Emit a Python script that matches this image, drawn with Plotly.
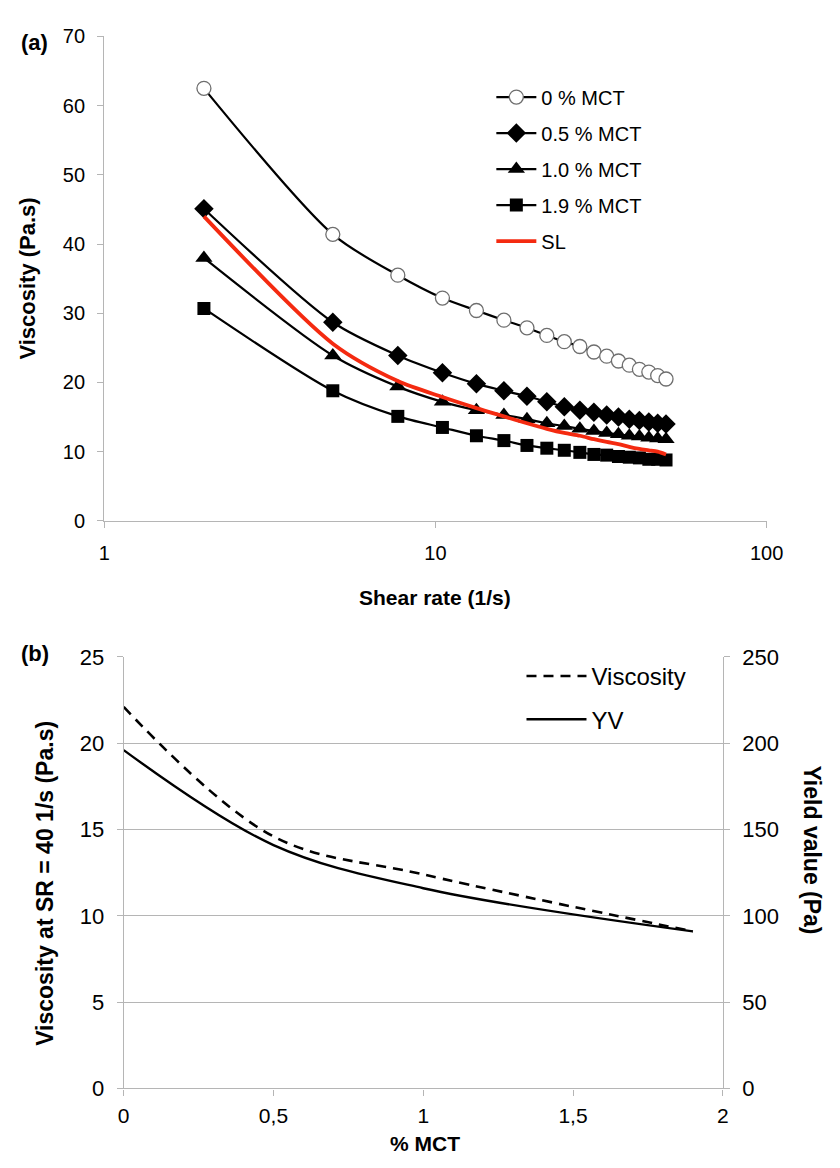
import plotly.graph_objects as go

# ---------------- data: panel (a) ----------------
shear_rate = [2.0, 4.9, 7.7, 10.5, 13.3, 16.1, 18.9, 21.7, 24.5, 27.3,
              30.1, 32.9, 35.7, 38.5, 41.3, 44.1, 46.9, 49.7]
mct_0 = [62.5, 41.4, 35.5, 32.2, 30.4, 29.0, 27.9, 26.8, 25.9, 25.2,
         24.4, 23.8, 23.1, 22.5, 21.9, 21.5, 21.0, 20.5]
mct_05 = [45.1, 28.7, 23.9, 21.4, 19.8, 18.8, 18.0, 17.2, 16.5, 16.0,
          15.7, 15.3, 15.0, 14.7, 14.5, 14.3, 14.1, 14.0]
mct_10 = [38.0, 23.9, 19.4, 17.2, 16.0, 15.3, 14.7, 14.1, 13.7, 13.3,
          13.0, 12.7, 12.5, 12.3, 12.2, 12.0, 11.9, 11.8]
mct_19 = [30.7, 18.8, 15.1, 13.5, 12.3, 11.6, 10.9, 10.5, 10.2, 9.9,
          9.6, 9.5, 9.3, 9.2, 9.1, 8.9, 8.9, 8.8]
sl = [44.0, 25.6, 20.2, 17.9, 16.3, 15.1, 14.1, 13.3, 12.7, 12.3,
      11.8, 11.4, 11.1, 10.7, 10.4, 10.2, 10.0, 9.6]
series_names = ["0 % MCT", "0.5 % MCT", "1.0 % MCT", "1.9 % MCT", "SL"]
x_ticks_a = [1, 10, 100]
x_ticklabels_a = ["1", "10", "100"]

# ---------------- data: panel (b) ----------------
mct_pct = [0, 0.5, 1.0, 1.9]
viscosity_40 = [22.1, 14.6, 12.4, 9.1]
yield_value = [196, 141, 116, 91]

FONT = "Liberation Sans, Arial, Helvetica, sans-serif"
GRAY = "#B5B5B5"
W, H = 840, 1168

def px_x(p):
    return p / W

def px_y(p):
    return 1 - p / H

fig = go.Figure()

marker_styles = [
    dict(symbol="circle", size=14, color="white", line=dict(color="#6E6E6E", width=1.3)),
    dict(symbol="diamond", size=15, color="black", line=dict(color="black", width=0)),
    dict(symbol="triangle-up", size=15, color="black", line=dict(color="black", width=0)),
    dict(symbol="square", size=13, color="black", line=dict(color="black", width=0)),
]
for name, ys, mk in zip(series_names[:4], [mct_0, mct_05, mct_10, mct_19], marker_styles):
    fig.add_trace(go.Scatter(
        x=shear_rate, y=ys, name=name, mode="lines+markers",
        line=dict(color="black", width=2.2, shape="spline", smoothing=0.8),
        marker=mk, xaxis="x", yaxis="y", legend="legend", legendgroup=name))

fig.add_trace(go.Scatter(
    x=shear_rate, y=sl, name=series_names[4], mode="lines",
    line=dict(color="#F42A10", width=3.8, shape="spline", smoothing=0.8),
    xaxis="x", yaxis="y", legend="legend", legendgroup="SL"))

# panel (b)
fig.add_trace(go.Scatter(
    x=mct_pct, y=viscosity_40, name="Viscosity", mode="lines",
    line=dict(color="black", width=2.6, dash="10px,7px", shape="spline", smoothing=1.0),
    xaxis="x2", yaxis="y2", legend="legend2", legendgroup="visc"))
fig.add_trace(go.Scatter(
    x=mct_pct, y=yield_value, name="YV", mode="lines",
    line=dict(color="black", width=2.4, shape="spline", smoothing=1.0),
    xaxis="x2", yaxis="y3", legend="legend2", legendgroup="yv"))

axis_common = dict(showline=True, linecolor=GRAY, linewidth=1.3, ticks="outside",
                   tickcolor=GRAY, ticklen=6, tickwidth=1.3, zeroline=False,
                   color="black")

fig.update_layout(
    width=W, height=H,
    margin=dict(l=0, r=0, t=0, b=0),
    paper_bgcolor="white", plot_bgcolor="white",
    font=dict(family=FONT, color="black"),
    separators=", ",
    showlegend=True,
    xaxis=dict(type="log", domain=[px_x(101), px_x(782)], anchor="y",
               range=[0, 2], tickvals=x_ticks_a, ticktext=x_ticklabels_a,
               showgrid=False, tickfont=dict(size=20), ticklabelstandoff=8,
               **axis_common),
    yaxis=dict(domain=[px_y(520), px_y(25)], anchor="x", range=[0, 70],
               dtick=10, showgrid=False, tickfont=dict(size=20),
               ticklabelstandoff=8, **axis_common),
    xaxis2=dict(domain=[px_x(121), px_x(737)], anchor="y2", range=[0, 2],
                dtick=0.5, showgrid=False, tickfont=dict(size=21),
                ticklabelstandoff=2, **axis_common),
    yaxis2=dict(domain=[px_y(1100), px_y(659)], anchor="x2", range=[0, 25],
                dtick=5, showgrid=True, gridcolor=GRAY, gridwidth=1.3,
                tickfont=dict(size=22), ticklabelstandoff=8, **axis_common),
    yaxis3=dict(domain=[px_y(1100), px_y(659)], anchor="x2", overlaying="y2",
                side="right", range=[0, 250], dtick=50, showgrid=False,
                tickfont=dict(size=22), ticklabelstandoff=8, **axis_common),
    legend=dict(x=px_x(499), y=px_y(67), xanchor="left", yanchor="top",
                font=dict(size=20, family=FONT), tracegroupgap=7,
                bgcolor="rgba(0,0,0,0)", itemwidth=40),
    legend2=dict(x=px_x(530), y=px_y(656), xanchor="left", yanchor="top",
                 font=dict(size=24, family=FONT), tracegroupgap=9,
                 bgcolor="rgba(0,0,0,0)", itemwidth=60),
)

annotations = [
    dict(text="<b>(a)</b>", x=px_x(29), y=px_y(31), size=22),
    dict(text="<b>(b)</b>", x=px_x(30), y=px_y(656), size=22),
    dict(text="<b>Viscosity (Pa.s)</b>", x=px_x(22), y=px_y(272), textangle=-90, size=22),
    dict(text="<b>Shear rate (1/s)</b>", x=px_x(441), y=px_y(598), size=21),
    dict(text="<b>Viscosity at SR = 40 1/s (Pa.s)</b>", x=px_x(40), y=px_y(890), textangle=-90, size=23),
    dict(text="<b>Yield value (Pa)</b>", x=px_x(829), y=px_y(856), textangle=90, size=23),
    dict(text="<b>% MCT</b>", x=px_x(431), y=px_y(1156), size=21),
]
for a in annotations:
    fig.add_annotation(
        text=a["text"], x=a["x"], y=a["y"], xref="paper", yref="paper",
        xanchor="center", yanchor="middle", showarrow=False,
        textangle=a.get("textangle", 0),
        font=dict(family=FONT, size=a.get("size", 21), color="black"))

fig.write_html("out.html")
